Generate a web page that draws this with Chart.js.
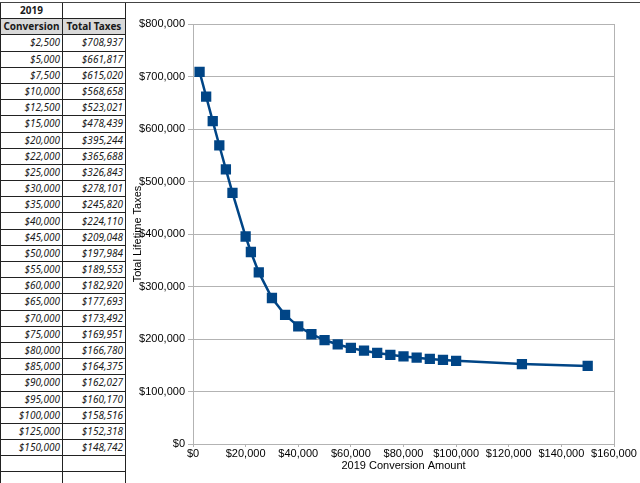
<!DOCTYPE html>
<html>
<head>
<meta charset="utf-8">
<script src="https://cdn.jsdelivr.net/npm/chart.js@4.4.1/dist/chart.umd.min.js"></script>
<style>
  html, body { margin: 0; padding: 0; background: #fff; }
  body { width: 640px; height: 483px; position: relative; overflow: hidden; }
  #topLine { position: absolute; left: 0; top: 2px; width: 640px; height: 1px; background: #444; }
  #tbl { position: absolute; left: 0; top: 2px; border-collapse: collapse; font-family: "Noto Sans", "Liberation Sans", sans-serif; font-size: 10px; color: #1a1a1a; }
  #tbl td { border: 1px solid #222; height: 15.2px; padding: 0 2px 0 0; line-height: 15px; white-space: nowrap; box-sizing: content-box; }
  #tbl td.c1 { width: 59px; }
  #tbl td.c2 { width: 60px; }
  #tbl td.val { text-align: right; font-style: italic; }
  #tbl td.hd { font-weight: bold; text-align: center; background: #d9d9d9; padding: 0; }
  #tbl td.yr { font-weight: bold; text-align: center; padding: 0; }
  #chartBox { position: absolute; left: 126px; top: 3px; width: 514px; height: 480px; background: #fff; }
</style>
</head>
<body>
<table id="tbl"></table>
<div id="chartBox"><canvas id="chartTax"></canvas></div>
<div id="topLine"></div>
<script>
// 2019 conversion amounts vs total lifetime taxes
const conversion = [2500, 5000, 7500, 10000, 12500, 15000, 20000, 22000, 25000, 30000, 35000, 40000, 45000,
    50000, 55000, 60000, 65000, 70000, 75000, 80000, 85000, 90000, 95000, 100000, 125000, 150000];
const totalTaxes = [708937, 661817, 615020, 568658, 523021, 478439, 395244, 365688, 326843, 278101, 245820, 224110, 209048,
    197984, 189553, 182920, 177693, 173492, 169951, 166780, 164375, 162027, 160170, 158516, 152318, 148742];
const yearLabel = '2019';
const headers = ['Conversion', 'Total Taxes'];
const xTitle = '2019 Conversion Amount';
const yTitle = 'Total Lifetime Taxes';

const money = v => '$' + Number(v).toLocaleString('en-US');

// spreadsheet table
let rows = `<tr><td class="c1 yr">${yearLabel}</td><td class="c2"></td></tr>`;
rows += `<tr><td class="c1 hd">${headers[0]}</td><td class="c2 hd">${headers[1]}</td></tr>`;
conversion.forEach((c, i) => {
    rows += `<tr><td class="c1 val">${money(c)}</td><td class="c2 val">${money(totalTaxes[i])}</td></tr>`;
});
rows += '<tr><td class="c1"></td><td class="c2"></td></tr><tr><td class="c1"></td><td class="c2"></td></tr>';
document.getElementById('tbl').innerHTML = rows;

const blue = '#004586';
const gridGrey = '#b3b3b3';
const font = { family: '"Liberation Sans", Arial, sans-serif', size: 11 };

new Chart(document.getElementById('chartTax'), {
    type: 'scatter',
    data: {
        datasets: [{
            data: conversion.map((c, i) => ({ x: c, y: totalTaxes[i] })),
            showLine: true,
            borderColor: blue,
            backgroundColor: blue,
            borderWidth: 2.5,
            pointStyle: 'rect',
            pointRadius: 5.5,
            pointHoverRadius: 5.5,
            tension: 0
        }]
    },
    options: {
        responsive: true, maintainAspectRatio: false, animation: false,
        layout: { padding: { top: 21, right: 26, left: 0, bottom: 0 } },
        plugins: { legend: { display: false }, tooltip: { enabled: false } },
        scales: {
            x: {
                type: 'linear', min: 0, max: 160000,
                ticks: { stepSize: 20000, color: '#000', font: font, padding: 0, maxRotation: 0, callback: v => money(v) },
                grid: {
                    color: c => (c.tick && c.tick.value === 160000) ? gridGrey : 'rgba(0,0,0,0)',
                    tickColor: gridGrey, tickLength: 3
                },
                border: { color: gridGrey },
                title: { display: true, text: xTitle, color: '#000', font: font, padding: { top: 0, bottom: 10 } },
                afterFit: s => { s.height = 39; }
            },
            y: {
                min: 0, max: 800000,
                ticks: { stepSize: 100000, color: '#000', font: font, padding: 3, callback: v => money(v) },
                grid: { color: gridGrey, tickColor: gridGrey, tickLength: 5 },
                border: { color: gridGrey },
                title: { display: true, text: yTitle, color: '#000', font: font, padding: { top: 5, bottom: 0 } },
                afterFit: s => { s.width = 67; }
            }
        }
    }
});
</script>
</body>
</html>
